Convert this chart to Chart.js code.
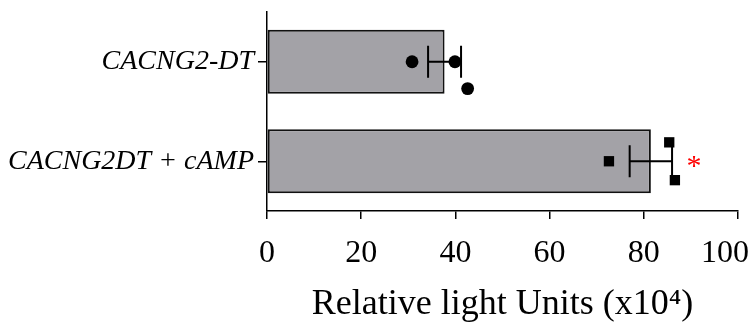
<!DOCTYPE html>
<html>
<head>
<meta charset="utf-8">
<script src="https://cdn.jsdelivr.net/npm/chart.js@4.4.1/dist/chart.umd.min.js"></script>
<style>
  html, body { margin: 0; padding: 0; background: #fff; }
  #chart { display: block; }
</style>
</head>
<body>
<canvas id="chart" width="752" height="322"></canvas>
<script>
// groups and bar means (x10^4 RLU)
const categories = ['CACNG2-DT', 'CACNG2DT + cAMP'];
const means = [37.7, 81.5];
const sem = [3.5, 4.5];
const signif = ['', '*'];

// individual replicates, with the vertical scatter as drawn (fraction of a category)
const ctrlValues = [30.8, 39.9, 42.6];
const ctrlJitter = [0, 0, 0.27];
const campValues = [72.6, 85.4, 86.6];
const campJitter = [0, -0.19, 0.19];

const xTicks = [0, 20, 40, 60, 80, 100];

function toPoints(values, jitter, row) {
    return values.map((v, i) => ({ x: v, y: row + jitter[i] }));
}

// error bars (mean +/- SEM) drawn right after the bars, under the dots
const errorBars = {
    id: 'errorBars',
    afterDatasetDraw(chart, args) {
        if (args.meta.type !== 'bar') return;
        const ctx = chart.ctx;
        const xs = chart.scales.x;
        const ys = chart.scales.y;
        const step = ys.getPixelForValue(1) - ys.getPixelForValue(0);
        ctx.save();
        ctx.strokeStyle = '#000';
        ctx.lineWidth = 2;
        means.forEach((m, i) => {
            const y = ys.getPixelForValue(i);
            const x1 = xs.getPixelForValue(m - sem[i]);
            const x2 = xs.getPixelForValue(m + sem[i]);
            const h = step * 0.16;
            ctx.beginPath();
            ctx.moveTo(x1, y); ctx.lineTo(x2, y);
            ctx.moveTo(x1, y - h); ctx.lineTo(x1, y + h);
            ctx.moveTo(x2, y - h); ctx.lineTo(x2, y + h);
            ctx.stroke();
        });
        ctx.restore();
    },
    afterDraw(chart) {
        const ctx = chart.ctx;
        const xs = chart.scales.x;
        const ys = chart.scales.y;
        ctx.save();
        // significance marks
        ctx.fillStyle = '#ff0000';
        ctx.font = '30px "Liberation Serif"';
        ctx.textAlign = 'center';
        ctx.textBaseline = 'alphabetic';
        signif.forEach((s, i) => {
            if (!s) return;
            const mt = ctx.measureText(s);
            const x = xs.getPixelForValue(means[i] + sem[i]) + 22;
            const y = ys.getPixelForValue(i) + (mt.actualBoundingBoxAscent - mt.actualBoundingBoxDescent) / 2;
            ctx.fillText(s, x, y);
        });
        // x tick labels, last one kept inside the canvas like the original
        ctx.fillStyle = '#000';
        ctx.font = '32px "Liberation Serif"';
        xs.ticks.forEach(t => {
            const label = String(t.value);
            const w = ctx.measureText(label).width;
            let x = xs.getPixelForValue(t.value);
            if (x + w / 2 > chart.width - 3) x = chart.width - 3 - w / 2;
            ctx.fillText(label, x, xs.top + 51);
        });
        ctx.restore();
    }
};

const ctx = document.getElementById('chart').getContext('2d');
new Chart(ctx, {
    type: 'bar',
    data: {
        labels: categories,
        datasets: [
            {
                type: 'bar',
                data: means,
                indexAxis: 'y',
                xAxisID: 'x',
                yAxisID: 'y',
                backgroundColor: '#a3a2a7',
                borderColor: '#111',
                borderWidth: 2,
                borderSkipped: false,
                barPercentage: 0.643,
                categoryPercentage: 1,
                order: 2
            },
            {
                type: 'scatter',
                data: toPoints(ctrlValues, ctrlJitter, 0),
                xAxisID: 'x',
                yAxisID: 'yj',
                pointStyle: 'circle',
                pointRadius: 6.4,
                backgroundColor: '#000',
                borderColor: '#000',
                borderWidth: 0,
                order: 1
            },
            {
                type: 'scatter',
                data: toPoints(campValues, campJitter, 1),
                xAxisID: 'x',
                yAxisID: 'yj',
                pointStyle: 'rect',
                pointRadius: 7.3,
                backgroundColor: '#000',
                borderColor: '#000',
                borderWidth: 0,
                order: 1
            }
        ]
    },
    options: {
        responsive: false,
        animation: false,
        devicePixelRatio: 1,
        layout: { padding: { top: 12, right: 14, left: 0, bottom: 0 } },
        plugins: {
            legend: { display: false },
            tooltip: { enabled: false }
        },
        scales: {
            x: {
                type: 'linear',
                position: 'bottom',
                offset: false,
                min: 0,
                max: 100,
                afterBuildTicks(scale) {
                    scale.ticks = xTicks.map(v => ({ value: v }));
                },
                afterFit(scale) {
                    scale.height = 111;
                    scale.paddingLeft = 0;
                    scale.paddingRight = 0;
                },
                border: { display: true, color: '#000', width: 1.5 },
                grid: {
                    offset: false,
                    drawOnChartArea: false,
                    drawTicks: true,
                    tickLength: 8,
                    color: '#000',
                    lineWidth: 1.5
                },
                ticks: {
                    color: 'rgba(0,0,0,0)',
                    font: { family: 'Liberation Serif', size: 32 },
                    maxRotation: 0
                },
                title: {
                    display: true,
                    text: 'Relative light Units (x10⁴)',
                    color: '#000',
                    font: { family: 'Liberation Serif', size: 36, lineHeight: 1 },
                    padding: { top: 0, bottom: -1 }
                }
            },
            y: {
                type: 'category',
                position: 'left',
                labels: categories,
                offset: true,
                afterFit(scale) {
                    scale.width = 267;
                    scale.paddingTop = 0;
                    scale.paddingBottom = 0;
                },
                border: { display: true, color: '#000', width: 1.5 },
                grid: {
                    offset: false,
                    drawOnChartArea: false,
                    drawTicks: true,
                    tickLength: 9,
                    color: '#000',
                    lineWidth: 1.5
                },
                ticks: {
                    color: '#000',
                    padding: 4,
                    font: { family: 'Liberation Serif', size: 28, style: 'italic' }
                }
            },
            yj: {
                type: 'linear',
                display: false,
                reverse: true,
                min: -0.5,
                max: 1.5
            }
        }
    },
    plugins: [errorBars]
});
</script>
</body>
</html>
